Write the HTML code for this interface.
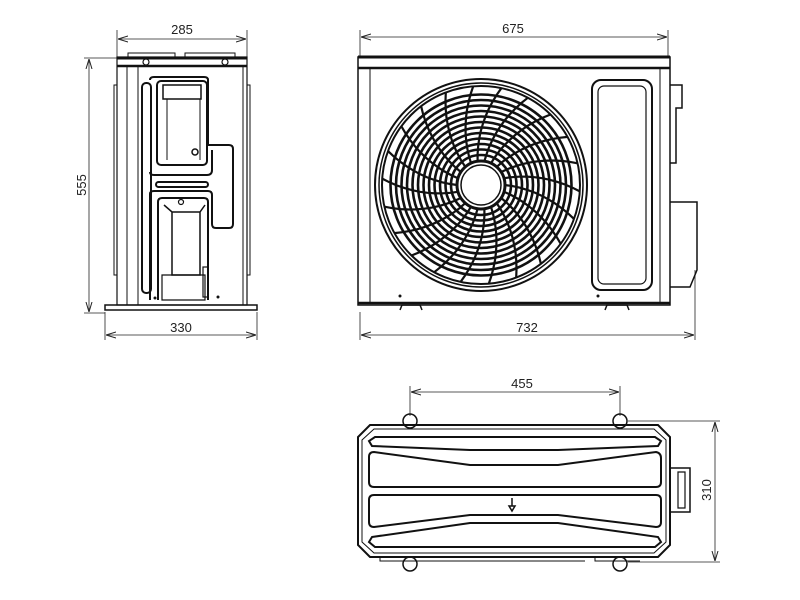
<!DOCTYPE html>
<html><head><meta charset="utf-8"><style>
html,body{margin:0;padding:0;background:#fff;width:800px;height:600px;overflow:hidden}
svg{display:block}
text{font-family:"Liberation Sans",Arial,sans-serif;font-size:13px;fill:#222}
</style></head><body>
<svg width="800" height="600" viewBox="0 0 800 600" xmlns="http://www.w3.org/2000/svg">
<defs>
<marker id="a" markerWidth="10" markerHeight="8" refX="10" refY="4" orient="auto-start-reverse" markerUnits="userSpaceOnUse"><path d="M0,1 L10,4 L0,7" fill="none" stroke="#222" stroke-width="1"/></marker>
</defs>
<g stroke="#222" stroke-width="0.8" fill="none">
<line x1="117" y1="30" x2="117" y2="58"/><line x1="247" y1="30" x2="247" y2="58"/>
<line x1="118" y1="39" x2="246" y2="39" marker-start="url(#a)" marker-end="url(#a)"/>
<line x1="84" y1="58" x2="117" y2="58"/><line x1="84" y1="313" x2="105" y2="313"/>
<line x1="89" y1="59" x2="89" y2="312" marker-start="url(#a)" marker-end="url(#a)"/>
<line x1="105" y1="312" x2="105" y2="340"/><line x1="257" y1="312" x2="257" y2="340"/>
<line x1="106" y1="335" x2="256" y2="335" marker-start="url(#a)" marker-end="url(#a)"/>
<line x1="360" y1="30" x2="360" y2="57"/><line x1="668" y1="30" x2="668" y2="57"/>
<line x1="361" y1="37" x2="667" y2="37" marker-start="url(#a)" marker-end="url(#a)"/>
<line x1="360" y1="312" x2="360" y2="340"/><line x1="695" y1="270" x2="695" y2="340"/>
<line x1="361" y1="335" x2="694" y2="335" marker-start="url(#a)" marker-end="url(#a)"/>
<line x1="410" y1="386" x2="410" y2="416"/><line x1="620" y1="386" x2="620" y2="416"/>
<line x1="411" y1="392" x2="619" y2="392" marker-start="url(#a)" marker-end="url(#a)"/>
<line x1="628" y1="421" x2="720" y2="421"/><line x1="628" y1="562" x2="720" y2="562"/>
<line x1="715" y1="422" x2="715" y2="561" marker-start="url(#a)" marker-end="url(#a)"/>
</g>
<text x="182" y="34" text-anchor="middle">285</text>
<text x="181" y="332" text-anchor="middle">330</text>
<text transform="translate(86,185) rotate(-90)" text-anchor="middle">555</text>
<text x="513" y="33" text-anchor="middle">675</text>
<text x="527" y="332" text-anchor="middle">732</text>
<text x="522" y="388" text-anchor="middle">455</text>
<text transform="translate(711,490) rotate(-90)" text-anchor="middle">310</text>

<g stroke="#111" fill="none">
<rect x="117" y="57" width="130" height="248" stroke-width="1.2"/>
<line x1="117" y1="58" x2="247" y2="58" stroke-width="3"/>
<line x1="117" y1="66" x2="247" y2="66" stroke-width="2.5"/>
<path d="M128 57 V53 H175 V57 M185 57 V53 H235 V57" stroke-width="1"/>
<circle cx="146" cy="62" r="3" stroke-width="1.2"/><circle cx="225" cy="62" r="3" stroke-width="1.2"/>
<line x1="127" y1="66" x2="127" y2="305" stroke-width="1"/>
<line x1="138" y1="66" x2="138" y2="305" stroke-width="1"/>
<line x1="243" y1="66" x2="243" y2="305" stroke-width="1"/>
<path d="M117 85 h-3 v190 h3 M247 85 h3 v190 h-3" stroke-width="1"/>
<rect x="142" y="83" width="9" height="210" rx="4" stroke-width="2"/>
<path d="M150 80 Q150 77 154 77 H204 Q208 77 208 80 V145 H229 Q233 145 233 149 V224 Q233 228 229 228 H216 Q212 228 212 224 V195 Q212 191 208 191 H154 Q150 191 150 194 V300 M150 172 Q150 175 154 175 H207 Q212 175 212 170 V150" stroke-width="2"/>
<rect x="157" y="81" width="50" height="84" rx="4" stroke-width="2"/>
<rect x="163" y="85" width="38" height="14" stroke-width="1.5"/>
<line x1="167" y1="99" x2="167" y2="160" stroke-width="1"/>
<line x1="200" y1="99" x2="200" y2="160" stroke-width="1"/>
<circle cx="195" cy="152" r="3" stroke-width="1.5"/>
<rect x="156" y="182" width="52" height="5" rx="2.5" stroke-width="2"/>
<path d="M158 300 V202 Q158 198 162 198 H204 Q208 198 208 202 V300" stroke-width="2"/>
<path d="M164 205 L172 212 H200 L205 205 M172 212 V275 H200 V212" stroke-width="1.5"/>
<circle cx="181" cy="202" r="2.5" stroke-width="1.2"/>
<rect x="203" y="267" width="5" height="30" stroke-width="1.2"/>
<path d="M162 275 H205 V300 H162 Z" stroke-width="1.2"/>
<rect x="105" y="305" width="152" height="5" stroke-width="1.5"/>
</g>
<circle cx="155" cy="298" r="1.5" fill="#111"/><circle cx="218" cy="297" r="1.5" fill="#111"/>

<g stroke="#111" fill="none">
<rect x="358" y="57" width="312" height="248" stroke-width="1.5"/>
<line x1="358" y1="57" x2="670" y2="57" stroke-width="3"/>
<line x1="358" y1="68" x2="670" y2="68" stroke-width="2.5"/>
<line x1="358" y1="303" x2="670" y2="303" stroke-width="2.5"/>
<line x1="370" y1="68" x2="370" y2="303" stroke-width="1"/>
<line x1="660" y1="68" x2="660" y2="303" stroke-width="1"/>
<rect x="592" y="80" width="60" height="210" rx="9" stroke-width="2"/>
<rect x="598" y="86" width="48" height="198" rx="6" stroke-width="1.2"/>
<path d="M670 85 H682 V108 H676 V163 H670" stroke-width="1.5"/>
<path d="M670 202 H697 V270 L690 287 H670" stroke-width="1.5"/>
<path d="M400 310 L402 305 H420 L422 310 M605 310 L607 305 H627 L629 310" stroke-width="1.5"/>
<circle cx="481" cy="185" r="106" stroke-width="2"/>
<circle cx="481" cy="185" r="102" stroke-width="1.5"/>
<circle cx="481" cy="185" r="99" stroke-width="2"/>
<g id="rings" stroke-width="2.6"></g>
<g id="spokes" stroke-width="2.2"></g>
<circle cx="481" cy="185" r="24" stroke-width="3"/>
</g>
<circle cx="481" cy="185" r="20" fill="#fff" stroke="#111" stroke-width="1.5"/>
<circle cx="400" cy="296" r="1.5" fill="#111"/><circle cx="598" cy="296" r="1.5" fill="#111"/>

<g stroke="#111" fill="none">
<circle cx="410" cy="421" r="7" stroke-width="1.5"/><circle cx="620" cy="421" r="7" stroke-width="1.5"/>
<circle cx="410" cy="564" r="7" stroke-width="1.5"/><circle cx="620" cy="564" r="7" stroke-width="1.5"/>
<path d="M370 425 H658 L670 437 V545 L658 557 H370 L358 545 V437 Z" stroke-width="2"/>
<path d="M374 429 H654 L666 440 V542 L654 553 H374 L362 542 V440 Z" stroke-width="1"/>
<path d="M670 468 H690 V512 H670" stroke-width="1.5"/>
<path d="M678 472 H685 V508 H678 Z" stroke-width="1.2"/>
<path d="M380 557 V561 H585 M595 557 V561 H640" stroke-width="1"/>
<path d="M375 437 H655 L661 441 L658 446 L558 450 H470 L372 446 L369 441 Z" stroke-width="2"/>
<path d="M374 452 L470 465 H558 L656 452 Q661 453 661 458 V482 Q661 487 656 487 H374 Q369 487 369 482 V457 Q369 452 374 452 Z" stroke-width="2"/>
<path d="M374 495 H656 Q661 495 661 500 V522 Q661 527 656 527 L558 515 H470 L374 527 Q369 527 369 522 V500 Q369 495 374 495 Z" stroke-width="2"/>
<path d="M372 537 L470 523 H558 L658 537 L661 542 L655 547 H375 L369 542 Z" stroke-width="2"/>
<path d="M512 498 V506 M509 506 L512 511 L515 506 Z" stroke-width="1.5"/>
</g>
<script>
(function(){
var ns="http://www.w3.org/2000/svg",cx=481,cy=185;
var r=document.getElementById("rings");
for(var rad=30;rad<=95;rad+=5.5){var c=document.createElementNS(ns,"circle");c.setAttribute("cx",cx);c.setAttribute("cy",cy);c.setAttribute("r",rad);r.appendChild(c);}
var s=document.getElementById("spokes");
for(var i=0;i<22;i++){var a0=i*Math.PI*2/22;var d="";
for(var k=0;k<=10;k++){var t=k/10;var rad=24+t*75;var a=a0+t*0.35;var x=cx+rad*Math.cos(a),y=cy+rad*Math.sin(a);d+=(k?"L":"M")+x.toFixed(1)+" "+y.toFixed(1);}
var p=document.createElementNS(ns,"path");p.setAttribute("d",d);s.appendChild(p);}
})();
</script>
</svg>
</body></html>
